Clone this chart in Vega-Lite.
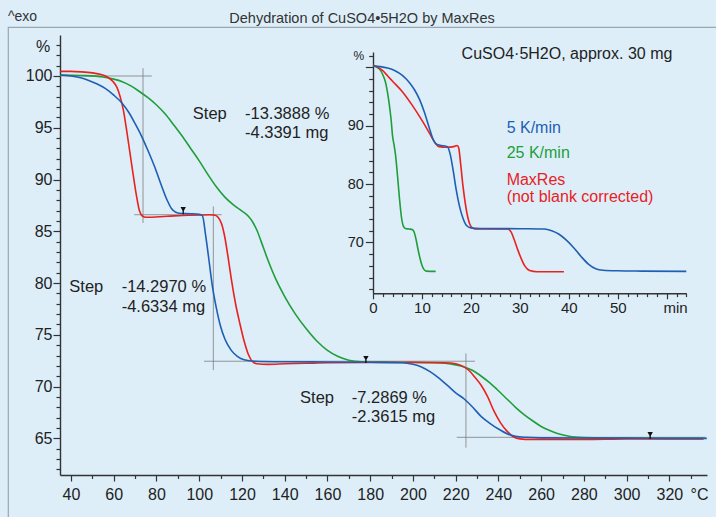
{
"$schema": "https://vega.github.io/schema/vega-lite/v6.json",
"width": 708, "height": 490,
"autosize": "none",
"padding": {"left": 8, "top": 27, "right": 0, "bottom": 0},
"background": "#ddeef9",
"config": {
  "font": "Liberation Sans",
  "view": {"stroke": "#9ba6af", "strokeWidth": 1.2, "strokeDash": [708, 1198, 490, 0]},
  "axis": {"domainColor": "#333333", "domainWidth": 1.4, "tickColor": "#333333", "tickWidth": 1.2, "labelColor": "#222222", "titleColor": "#222222", "labelFont": "Liberation Sans", "titleFont": "Liberation Sans", "grid": false, "labelOverlap": false, "labelBound": false, "labelFlush": false, "titleFontWeight": "normal"},
  "text": {"font": "Liberation Sans"}
},
"title": {"text": "Dehydration of CuSO4•5H2O by MaxRes", "anchor": "middle", "frame": "group", "fontSize": 14.5, "fontWeight": "normal", "color": "#333333", "baseline": "alphabetic", "offset": -27},
"datasets": {
  "main": [
    {"series":"25 K/min","T":35,"W":100.1},{"series":"25 K/min","T":45,"W":100.05},{"series":"25 K/min","T":55,"W":99.9},{"series":"25 K/min","T":60,"W":99.7},{"series":"25 K/min","T":64,"W":99.45},{"series":"25 K/min","T":68,"W":99.05},{"series":"25 K/min","T":72,"W":98.5},{"series":"25 K/min","T":76,"W":97.9},{"series":"25 K/min","T":80,"W":97.2},{"series":"25 K/min","T":84,"W":96.35},{"series":"25 K/min","T":88,"W":95.3},{"series":"25 K/min","T":92,"W":94.2},{"series":"25 K/min","T":96,"W":93.0},{"series":"25 K/min","T":100,"W":91.8},{"series":"25 K/min","T":104,"W":90.5},{"series":"25 K/min","T":108,"W":89.3},{"series":"25 K/min","T":112,"W":88.3},{"series":"25 K/min","T":116,"W":87.55},{"series":"25 K/min","T":120,"W":86.95},{"series":"25 K/min","T":123,"W":86.45},{"series":"25 K/min","T":125,"W":85.9},{"series":"25 K/min","T":127,"W":85.1},{"series":"25 K/min","T":129,"W":84.0},{"series":"25 K/min","T":132,"W":82.3},{"series":"25 K/min","T":136,"W":80.3},{"series":"25 K/min","T":140,"W":78.7},{"series":"25 K/min","T":145,"W":77.0},{"series":"25 K/min","T":150,"W":75.6},{"series":"25 K/min","T":155,"W":74.4},{"series":"25 K/min","T":160,"W":73.5},{"series":"25 K/min","T":165,"W":72.9},{"series":"25 K/min","T":170,"W":72.55},{"series":"25 K/min","T":176,"W":72.4},{"series":"25 K/min","T":190,"W":72.35},{"series":"25 K/min","T":210,"W":72.3},{"series":"25 K/min","T":215,"W":72.25},{"series":"25 K/min","T":220,"W":72.1},{"series":"25 K/min","T":224,"W":71.9},{"series":"25 K/min","T":228,"W":71.55},{"series":"25 K/min","T":232,"W":71.0},{"series":"25 K/min","T":236,"W":70.35},{"series":"25 K/min","T":240,"W":69.6},{"series":"25 K/min","T":244,"W":68.8},{"series":"25 K/min","T":248,"W":68.0},{"series":"25 K/min","T":252,"W":67.3},{"series":"25 K/min","T":256,"W":66.7},{"series":"25 K/min","T":260,"W":66.15},{"series":"25 K/min","T":264,"W":65.75},{"series":"25 K/min","T":268,"W":65.45},{"series":"25 K/min","T":272,"W":65.25},{"series":"25 K/min","T":276,"W":65.12},{"series":"25 K/min","T":285,"W":65.05},{"series":"25 K/min","T":300,"W":65.02},{"series":"25 K/min","T":320,"W":65.0},{"series":"25 K/min","T":336,"W":65.0},
    {"series":"MaxRes","T":35,"W":100.45},{"series":"MaxRes","T":40,"W":100.45},{"series":"MaxRes","T":45,"W":100.4},{"series":"MaxRes","T":50,"W":100.3},{"series":"MaxRes","T":54,"W":100.15},{"series":"MaxRes","T":57,"W":99.9},{"series":"MaxRes","T":59.5,"W":99.5},{"series":"MaxRes","T":61.5,"W":98.9},{"series":"MaxRes","T":63,"W":98.0},{"series":"MaxRes","T":64.5,"W":96.7},{"series":"MaxRes","T":66,"W":94.8},{"series":"MaxRes","T":67.5,"W":92.7},{"series":"MaxRes","T":69,"W":90.6},{"series":"MaxRes","T":70.5,"W":88.6},{"series":"MaxRes","T":72,"W":87.0},{"series":"MaxRes","T":73.5,"W":86.45},{"series":"MaxRes","T":75,"W":86.35},{"series":"MaxRes","T":85,"W":86.45},{"series":"MaxRes","T":95,"W":86.55},{"series":"MaxRes","T":105,"W":86.6},{"series":"MaxRes","T":107.5,"W":86.55},{"series":"MaxRes","T":109,"W":86.3},{"series":"MaxRes","T":110.5,"W":85.7},{"series":"MaxRes","T":112,"W":84.4},{"series":"MaxRes","T":113.5,"W":82.5},{"series":"MaxRes","T":115,"W":80.4},{"series":"MaxRes","T":117,"W":78.0},{"series":"MaxRes","T":119,"W":76.1},{"series":"MaxRes","T":121,"W":74.4},{"series":"MaxRes","T":123,"W":73.1},{"series":"MaxRes","T":125,"W":72.4},{"series":"MaxRes","T":127,"W":72.2},{"series":"MaxRes","T":132,"W":72.15},{"series":"MaxRes","T":140,"W":72.2},{"series":"MaxRes","T":150,"W":72.25},{"series":"MaxRes","T":160,"W":72.3},{"series":"MaxRes","T":200,"W":72.35},{"series":"MaxRes","T":215,"W":72.3},{"series":"MaxRes","T":220,"W":72.2},{"series":"MaxRes","T":223,"W":72.0},{"series":"MaxRes","T":226,"W":71.6},{"series":"MaxRes","T":229,"W":70.9},{"series":"MaxRes","T":232,"W":70.1},{"series":"MaxRes","T":235,"W":69.0},{"series":"MaxRes","T":238,"W":67.6},{"series":"MaxRes","T":241,"W":66.5},{"series":"MaxRes","T":244,"W":65.7},{"series":"MaxRes","T":247,"W":65.15},{"series":"MaxRes","T":250,"W":64.95},{"series":"MaxRes","T":255,"W":64.9},{"series":"MaxRes","T":280,"W":64.9},{"series":"MaxRes","T":300,"W":64.95},{"series":"MaxRes","T":336,"W":64.95},
    {"series":"5 K/min","T":35,"W":100.1},{"series":"5 K/min","T":40,"W":100.0},{"series":"5 K/min","T":45,"W":99.8},{"series":"5 K/min","T":48,"W":99.6},{"series":"5 K/min","T":52,"W":99.25},{"series":"5 K/min","T":56,"W":98.8},{"series":"5 K/min","T":60,"W":98.15},{"series":"5 K/min","T":64,"W":97.35},{"series":"5 K/min","T":67,"W":96.5},{"series":"5 K/min","T":70,"W":95.4},{"series":"5 K/min","T":73,"W":94.2},{"series":"5 K/min","T":76,"W":92.8},{"series":"5 K/min","T":79,"W":91.3},{"series":"5 K/min","T":82,"W":89.6},{"series":"5 K/min","T":85,"W":88.0},{"series":"5 K/min","T":87,"W":87.2},{"series":"5 K/min","T":89,"W":86.85},{"series":"5 K/min","T":92,"W":86.72},{"series":"5 K/min","T":96,"W":86.7},{"series":"5 K/min","T":100,"W":86.65},{"series":"5 K/min","T":101.5,"W":86.5},{"series":"5 K/min","T":103,"W":84.6},{"series":"5 K/min","T":104.5,"W":82.3},{"series":"5 K/min","T":106,"W":79.9},{"series":"5 K/min","T":108,"W":77.6},{"series":"5 K/min","T":110,"W":75.8},{"series":"5 K/min","T":112,"W":74.6},{"series":"5 K/min","T":115,"W":73.5},{"series":"5 K/min","T":118,"W":72.9},{"series":"5 K/min","T":121,"W":72.6},{"series":"5 K/min","T":126,"W":72.45},{"series":"5 K/min","T":140,"W":72.4},{"series":"5 K/min","T":160,"W":72.38},{"series":"5 K/min","T":180,"W":72.35},{"series":"5 K/min","T":195,"W":72.3},{"series":"5 K/min","T":200,"W":72.15},{"series":"5 K/min","T":204,"W":71.9},{"series":"5 K/min","T":208,"W":71.45},{"series":"5 K/min","T":212,"W":70.85},{"series":"5 K/min","T":216,"W":70.15},{"series":"5 K/min","T":220,"W":69.4},{"series":"5 K/min","T":224,"W":68.8},{"series":"5 K/min","T":228,"W":68.0},{"series":"5 K/min","T":232,"W":67.1},{"series":"5 K/min","T":236,"W":66.45},{"series":"5 K/min","T":240,"W":65.9},{"series":"5 K/min","T":244,"W":65.45},{"series":"5 K/min","T":248,"W":65.2},{"series":"5 K/min","T":253,"W":65.1},{"series":"5 K/min","T":260,"W":65.05},{"series":"5 K/min","T":280,"W":65.03},{"series":"5 K/min","T":300,"W":65.02},{"series":"5 K/min","T":320,"W":65.0},{"series":"5 K/min","T":337.5,"W":65.0}
  ],
  "inset": [
    {"series":"25 K/min","t":0,"Wi":100.2},{"series":"25 K/min","t":1,"Wi":99.9},{"series":"25 K/min","t":1.5,"Wi":99.5},{"series":"25 K/min","t":2,"Wi":98.7},{"series":"25 K/min","t":2.5,"Wi":97.6},{"series":"25 K/min","t":2.9,"Wi":96.0},{"series":"25 K/min","t":3.3,"Wi":93.8},{"series":"25 K/min","t":3.7,"Wi":91.0},{"series":"25 K/min","t":4.0,"Wi":88.2},{"series":"25 K/min","t":4.3,"Wi":86.7},{"series":"25 K/min","t":4.6,"Wi":85.0},{"series":"25 K/min","t":5.0,"Wi":81.5},{"series":"25 K/min","t":5.4,"Wi":77.6},{"series":"25 K/min","t":5.8,"Wi":74.4},{"series":"25 K/min","t":6.2,"Wi":72.8},{"series":"25 K/min","t":6.6,"Wi":72.4},{"series":"25 K/min","t":7.4,"Wi":72.3},{"series":"25 K/min","t":8.0,"Wi":72.2},{"series":"25 K/min","t":8.4,"Wi":71.8},{"series":"25 K/min","t":8.8,"Wi":70.5},{"series":"25 K/min","t":9.2,"Wi":68.8},{"series":"25 K/min","t":9.6,"Wi":67.3},{"series":"25 K/min","t":10.0,"Wi":66.1},{"series":"25 K/min","t":10.4,"Wi":65.4},{"series":"25 K/min","t":10.9,"Wi":65.1},{"series":"25 K/min","t":12.8,"Wi":65.05},
    {"series":"MaxRes","t":0,"Wi":100.35},{"series":"MaxRes","t":1,"Wi":100.0},{"series":"MaxRes","t":2,"Wi":99.4},{"series":"MaxRes","t":3,"Wi":98.5},{"series":"MaxRes","t":4,"Wi":97.6},{"series":"MaxRes","t":6,"Wi":95.8},{"series":"MaxRes","t":8,"Wi":93.5},{"series":"MaxRes","t":10,"Wi":90.9},{"series":"MaxRes","t":11,"Wi":89.5},{"series":"MaxRes","t":12,"Wi":88.0},{"series":"MaxRes","t":12.8,"Wi":86.9},{"series":"MaxRes","t":13.5,"Wi":86.4},{"series":"MaxRes","t":15,"Wi":86.3},{"series":"MaxRes","t":16.5,"Wi":86.4},{"series":"MaxRes","t":17.2,"Wi":86.6},{"series":"MaxRes","t":17.5,"Wi":86.2},{"series":"MaxRes","t":17.9,"Wi":83.5},{"series":"MaxRes","t":18.4,"Wi":79.5},{"series":"MaxRes","t":19,"Wi":75.9},{"series":"MaxRes","t":19.7,"Wi":73.3},{"series":"MaxRes","t":20.3,"Wi":72.5},{"series":"MaxRes","t":21,"Wi":72.3},{"series":"MaxRes","t":24,"Wi":72.3},{"series":"MaxRes","t":27.5,"Wi":72.3},{"series":"MaxRes","t":28.2,"Wi":71.8},{"series":"MaxRes","t":28.8,"Wi":70.6},{"series":"MaxRes","t":29.5,"Wi":68.9},{"series":"MaxRes","t":30.3,"Wi":67.2},{"series":"MaxRes","t":31,"Wi":66.0},{"series":"MaxRes","t":32,"Wi":65.2},{"series":"MaxRes","t":33.5,"Wi":65.0},{"series":"MaxRes","t":39,"Wi":65.0},
    {"series":"5 K/min","t":0,"Wi":100.2},{"series":"5 K/min","t":1.5,"Wi":100.1},{"series":"5 K/min","t":3,"Wi":99.85},{"series":"5 K/min","t":4.5,"Wi":99.4},{"series":"5 K/min","t":6,"Wi":98.6},{"series":"5 K/min","t":7.5,"Wi":97.3},{"series":"5 K/min","t":8.5,"Wi":96.1},{"series":"5 K/min","t":9.5,"Wi":94.5},{"series":"5 K/min","t":10.5,"Wi":92.3},{"series":"5 K/min","t":11.5,"Wi":89.6},{"series":"5 K/min","t":12.3,"Wi":87.6},{"series":"5 K/min","t":13,"Wi":86.8},{"series":"5 K/min","t":14,"Wi":86.6},{"series":"5 K/min","t":15.2,"Wi":86.4},{"series":"5 K/min","t":15.8,"Wi":85.0},{"series":"5 K/min","t":16.4,"Wi":82.2},{"series":"5 K/min","t":17,"Wi":79.0},{"series":"5 K/min","t":17.7,"Wi":76.1},{"series":"5 K/min","t":18.4,"Wi":74.1},{"series":"5 K/min","t":19.1,"Wi":72.9},{"series":"5 K/min","t":20,"Wi":72.5},{"series":"5 K/min","t":22,"Wi":72.4},{"series":"5 K/min","t":30,"Wi":72.35},{"series":"5 K/min","t":35,"Wi":72.3},{"series":"5 K/min","t":36.5,"Wi":72.0},{"series":"5 K/min","t":38,"Wi":71.4},{"series":"5 K/min","t":39.5,"Wi":70.4},{"series":"5 K/min","t":41,"Wi":69.1},{"series":"5 K/min","t":42.5,"Wi":67.6},{"series":"5 K/min","t":44,"Wi":66.3},{"series":"5 K/min","t":45.5,"Wi":65.5},{"series":"5 K/min","t":47,"Wi":65.25},{"series":"5 K/min","t":50,"Wi":65.15},{"series":"5 K/min","t":55,"Wi":65.1},{"series":"5 K/min","t":64,"Wi":65.05}
  ],
  "guides": [
    {"T1":34.85,"T2":77.8,"W1":100,"W2":100},
    {"T1":73.7,"T2":73.7,"W1":100.75,"W2":85.8},
    {"T1":69.6,"T2":110.5,"W1":86.6,"W2":86.6},
    {"T1":106.6,"T2":106.6,"W1":87.4,"W2":71.6},
    {"T1":102.2,"T2":229,"W1":72.45,"W2":72.45},
    {"T1":224.8,"T2":224.8,"W1":73.2,"W2":64.1},
    {"T1":220.5,"T2":337,"W1":65.1,"W2":65.1}
  ],
  "markers": [
    {"T":92.5,"W":86.72},{"T":178,"W":72.35},{"T":311,"W":65.0}
  ],
  "mainText": [
    {"T":97.0,"W":95.85,"text":"Step"},{"T":121.4,"W":95.85,"text":"-13.3888 %"},{"T":121.4,"W":93.98,"text":"-4.3391 mg"},
    {"T":39.2,"W":79.1,"text":"Step"},{"T":63.7,"W":79.1,"text":"-14.2970 %"},{"T":63.7,"W":77.23,"text":"-4.6334 mg"},
    {"T":147.2,"W":68.38,"text":"Step"},{"T":171.4,"W":68.38,"text":"-7.2869 %"},{"T":171.4,"W":66.6,"text":"-2.3615 mg"}
  ],
  "corner": [{"T":10.5,"W":105.3,"text":"^exo"}],
  "insetTitle": [{"t":18.1,"Wi":101.4,"text":"CuSO4·5H2O, approx. 30 mg"}],
  "insetLegend": [
    {"t":27.3,"Wi":88.7,"text":"5 K/min","series":"5 K/min"},
    {"t":27.3,"Wi":84.5,"text":"25 K/min","series":"25 K/min"},
    {"t":27.3,"Wi":79.9,"text":"MaxRes","series":"MaxRes"},
    {"t":27.3,"Wi":76.9,"text":"(not blank corrected)","series":"MaxRes"}
  ]
},
"layer": [
  {
    "layer": [
      {
        "data": {"name": "guides"},
        "mark": {"type": "rule", "color": "#7d7d7d", "strokeWidth": 1, "opacity": 0.8},
        "encoding": {
          "x": {"field": "T1", "type": "quantitative",
            "scale": {"domain": [34.85, 337.6], "range": [52, 699], "nice": false, "zero": false},
            "axis": {"orient": "bottom", "offset": -42, "labelOverlap": false,
              "values": [40,60,80,100,120,140,160,180,200,220,240,260,280,300,320],
              "tickSize": 6, "labelPadding": 5, "labelFontSize": 16,
              "title": "°C", "titleX": 682, "titleY": 11, "titleAlign": "left", "titleBaseline": "top", "titleFontSize": 16}},
          "x2": {"field": "T2"},
          "y": {"field": "W1", "type": "quantitative",
            "scale": {"domain": [61.46, 103.96], "range": [448, 8], "nice": false, "zero": false},
            "axis": {"orient": "left", "offset": -52, "labelOverlap": false,
              "values": [65,70,75,80,85,90,95,100],
              "tickSize": 7, "labelPadding": 1, "labelFontSize": 16,
              "title": "%", "titleX": -17.5, "titleY": 24.7, "titleAngle": 0, "titleAlign": "center", "titleBaseline": "alphabetic", "titleFontSize": 16}},
          "y2": {"field": "W2"}
        }
      },
      {
        "data": {"name": "main"},
        "mark": {"type": "line", "strokeWidth": 1.6, "interpolate": "monotone"},
        "encoding": {
          "x": {"field": "T", "type": "quantitative",
            "axis": {"orient": "bottom", "offset": -42, "values": [50,70,90,110,130,150,170,190,210,230,250,270,290,310,330],
              "labels": false, "domain": false, "title": null, "tickSize": 3.5}},
          "y": {"field": "W", "type": "quantitative",
            "axis": {"orient": "left", "offset": -52, "values": [62,63,64,66,67,68,69,71,72,73,74,76,77,78,79,81,82,83,84,86,87,88,89,91,92,93,94,96,97,98,99,101,102,103],
              "labels": false, "domain": false, "title": null, "tickSize": 4}},
          "color": {"field": "series", "type": "nominal",
            "scale": {"domain": ["5 K/min", "25 K/min", "MaxRes"], "range": ["#1e5fb3", "#1f9e3a", "#e8221f"]},
            "legend": null}
        }
      },
      {
        "data": {"name": "markers"},
        "mark": {"type": "point", "filled": true, "color": "#111111", "opacity": 1, "size": 180,
          "shape": "M-0.4,-0.95 L0.4,-0.95 L0.1,-0.4 L0.1,0.1 L-0.1,0.1 L-0.1,-0.4 Z"},
        "encoding": {
          "x": {"field": "T", "type": "quantitative", "axis": null},
          "y": {"field": "W", "type": "quantitative", "axis": null}
        }
      },
      {
        "data": {"name": "mainText"},
        "mark": {"type": "text", "align": "left", "baseline": "alphabetic", "fontSize": 16.5, "color": "#222222"},
        "encoding": {
          "x": {"field": "T", "type": "quantitative", "axis": null},
          "y": {"field": "W", "type": "quantitative", "axis": null},
          "text": {"field": "text"}
        }
      },
      {
        "data": {"name": "corner"},
        "mark": {"type": "text", "align": "left", "baseline": "alphabetic", "fontSize": 14, "color": "#333333"},
        "encoding": {
          "x": {"field": "T", "type": "quantitative", "axis": null},
          "y": {"field": "W", "type": "quantitative", "axis": null},
          "text": {"field": "text"}
        }
      }
    ],
    "resolve": {"axis": {"x": "independent", "y": "independent"}}
  },
  {
    "layer": [
      {
        "data": {"name": "inset"},
        "mark": {"type": "line", "strokeWidth": 1.6, "interpolate": "monotone"},
        "encoding": {
          "x": {"field": "t", "type": "quantitative",
            "scale": {"domain": [0, 64], "range": [365, 678.3], "nice": false, "zero": false},
            "axis": {"orient": "bottom", "offset": -223.7, "labelOverlap": false,
              "values": [0,10,20,30,40,50,60],
              "tickSize": 5.5, "labelPadding": 2, "labelFontSize": 15,
              "labelExpr": "datum.value <= 50 ? datum.label : ''",
              "title": "min", "titleX": 655, "titleY": 7.5, "titleAlign": "left", "titleBaseline": "top", "titleFontSize": 15}},
          "y": {"field": "Wi", "type": "quantitative",
            "scale": {"domain": [61.3, 102.6], "range": [266.3, 25], "nice": false, "zero": false},
            "axis": {"orient": "left", "offset": -365, "labelOverlap": false,
              "values": [70,80,90,100],
              "labelExpr": "datum.value <= 90 ? datum.label : ''",
              "tickSize": 7.7, "labelPadding": 2, "labelFontSize": 14.5,
              "title": "%", "titleX": -14.7, "titleY": 32.5, "titleAngle": 0, "titleAlign": "center", "titleBaseline": "alphabetic", "titleFontSize": 12}},
          "color": {"field": "series", "type": "nominal", "legend": null}
        }
      },
      {
        "data": {"name": "insetTitle"},
        "mark": {"type": "text", "align": "left", "baseline": "alphabetic", "fontSize": 16, "color": "#222222"},
        "encoding": {
          "x": {"field": "t", "type": "quantitative",
            "axis": {"orient": "bottom", "offset": -223.7, "values": [2,4,6,8,12,14,16,18,22,24,26,28,32,34,36,38,42,44,46,48,52,54,56,58,62,64],
              "labels": false, "domain": false, "title": null, "tickSize": 3.3}},
          "y": {"field": "Wi", "type": "quantitative",
            "axis": {"orient": "left", "offset": -365, "values": [62,64,66,68,72,74,76,78,82,84,86,88,92,94,96,98,102],
              "labels": false, "domain": false, "title": null, "tickSize": 4.3}},
          "text": {"field": "text"}
        }
      },
      {
        "data": {"name": "insetLegend"},
        "mark": {"type": "text", "align": "left", "baseline": "alphabetic", "fontSize": 16},
        "encoding": {
          "x": {"field": "t", "type": "quantitative", "axis": null},
          "y": {"field": "Wi", "type": "quantitative", "axis": null},
          "text": {"field": "text"},
          "color": {"field": "series", "type": "nominal", "legend": null}
        }
      }
    ],
    "resolve": {"axis": {"x": "independent", "y": "independent"}}
  }
],
"resolve": {"scale": {"x": "independent", "y": "independent"}, "axis": {"x": "independent", "y": "independent"}}
}
